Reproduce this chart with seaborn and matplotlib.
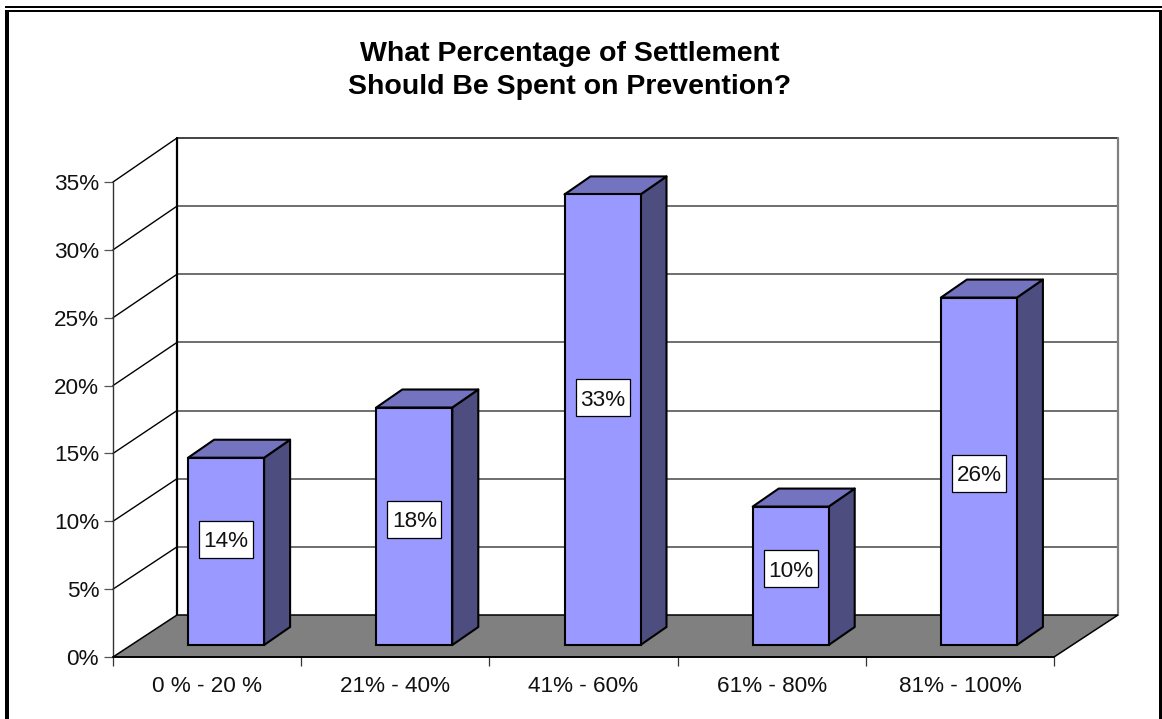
import matplotlib
matplotlib.use("Agg")
import matplotlib.pyplot as plt
import seaborn as sns
from matplotlib.patches import Polygon, Rectangle
from matplotlib.lines import Line2D
from matplotlib.transforms import Affine2D, IdentityTransform

categories = ["0 % - 20 %", "21% - 40%", "41% - 60%", "61% - 80%", "81% - 100%"]
values = [13.8, 17.5, 33.2, 10.2, 25.6]
value_labels = ["14%", "18%", "33%", "10%", "26%"]
y_ticks = [0, 5, 10, 15, 20, 25, 30, 35]
y_tick_labels = ["0%", "5%", "10%", "15%", "20%", "25%", "30%", "35%"]
title = "What Percentage of Settlement\nShould Be Spent on Prevention?"

W, H = 1162, 719
sns.set_theme(style="white")
plt.rcParams["font.family"] = ["Liberation Sans", "DejaVu Sans"]
fig = plt.figure(figsize=(W / 100, H / 100), dpi=100, facecolor="white")
ax = fig.add_axes([113 / W, 1 - 657 / H, 941 / W, 475 / H], facecolor="none")

BAR = "#9999FF"; TOP = "#7373BF"; SIDE = "#4D4D80"; FLOOR = "#808080"
DX, DY = 64, 42          # full depth of the box, px
BX, BY = 19, 12          # front inset of the bars, px
BW, BH = 26, 18          # depth of one bar, px
TEXT = "#111111"

sns.barplot(x=categories, y=values, ax=ax, color=BAR, saturation=1, width=76 / 188.2,
            edgecolor="black", linewidth=1.5, zorder=5)
ax.set_xlim(-0.5, 4.5)
ax.set_ylim(0, 35)
fig.canvas.draw()

def px(x, y, ox=0, oy=0):
    a, b = ax.transData.transform((x, y))
    return (a + ox, b + oy)

def back(x, y):
    # the back wall is a hair taller than the front plane
    return px(x, y, DX, DY + 2 * y / 35)

identity = IdentityTransform()

def fig_add(artist):
    artist.set_clip_on(False)
    ax.add_artist(artist)

x0, x1 = -0.5, 4.5

# back wall and grid
fig_add(Polygon([back(x0, 0), back(x1, 0), back(x1, 35), back(x0, 35)],
                closed=True, fc="white", ec="none", transform=identity, zorder=1))
for t in y_ticks[1:]:
    col = "#222222" if t == 35 else "#555555"
    fig_add(Line2D(*zip(back(x0, t), back(x1, t)), color=col, lw=1.2,
                   transform=identity, zorder=1.5))
    fig_add(Line2D(*zip(px(x0, t), back(x0, t)), color="black", lw=1.0,
                   transform=identity, zorder=1.5))
fig_add(Line2D(*zip(back(x0, 0), back(x0, 35)), color="black", lw=1.6,
               transform=identity, zorder=1.6))
fig_add(Line2D(*zip(back(x1, 0), back(x1, 35)), color="#808080", lw=1.6,
               transform=identity, zorder=1.6))
fig_add(Line2D(*zip(px(x0, 0), px(x0, 35)), color="#333333", lw=1.0,
               transform=identity, zorder=1.6))

# floor
fig_add(Polygon([px(x0, 0), px(x1, 0), back(x1, 0), back(x0, 0)], closed=True,
                fc=FLOOR, ec="black", lw=1.1, transform=identity, zorder=2))

# bars
shift = Affine2D().translate(BX, BY)
for p, v in zip(ax.patches, values):
    p.set_transform(ax.transData + shift)
    p.set_clip_on(False)
    xl = p.get_x(); xr = xl + p.get_width()
    fig_add(Polygon([px(xr, 0, BX, BY), px(xr, 0, BX + BW, BY + BH),
                     px(xr, v, BX + BW, BY + BH), px(xr, v, BX, BY)], closed=True,
                    fc=SIDE, ec="black", lw=1.5, joinstyle="round", transform=identity, zorder=4))
    fig_add(Polygon([px(xl, v, BX, BY), px(xr, v, BX, BY),
                     px(xr, v, BX + BW, BY + BH), px(xl, v, BX + BW, BY + BH)], closed=True,
                    fc=TOP, ec="black", lw=1.5, joinstyle="round", transform=identity, zorder=4))

label_nudge = [12, 7, 22, 7, -2]   # the boxes sit a little above the middle of the face, px
for p, v, lab, nudge in zip(ax.patches, values, value_labels, label_nudge):
    cx = p.get_x() + p.get_width() / 2
    a, b = px(cx, v / 2, BX, BY + nudge)
    fig_add(Rectangle((a - 27, b - 18.5), 54, 37, fc="white", ec="black", lw=0.9,
                      transform=identity, zorder=6))
    ax.text(a, b, lab, transform=identity, ha="center", va="center_baseline", fontsize=16.2,
            color=TEXT, zorder=7)

# axes
for s in ax.spines.values():
    s.set_visible(False)
ax.spines["bottom"].set_visible(True)
ax.spines["bottom"].set_color("black")
ax.spines["bottom"].set_linewidth(1.2)
ax.spines["bottom"].set_zorder(3)
ax.set_yticks(y_ticks, y_tick_labels, fontsize=16.2, color=TEXT)
ax.tick_params(axis="y", left=True, length=6.5, width=0.9, color="#555555", pad=3.5)
ax.set_xticks([-0.5, 0.5, 1.5, 2.5, 3.5, 4.5], [""] * 6)
ax.tick_params(axis="x", bottom=True, length=6.5, width=0.9, color="#333333")
ax.set_xlabel(""); ax.set_ylabel("")
for i, c in enumerate(categories):
    ax.annotate(c, xy=(i, 0), xycoords="data", xytext=(0, -29), textcoords="offset pixels",
                ha="center", va="center", fontsize=16.2, color=TEXT)

fig.text(570 / W, 1 - 70.5 / H, title, ha="center", va="center", fontsize=20.5, fontweight="bold",
         color="black", linespacing=1.35)

# double page frame
fig.add_artist(Rectangle((5 / W, 1 - 8 / H), 1157 / W, 2 / H, transform=fig.transFigure, fc="black", ec="none"))
fig.add_artist(Rectangle((5 / W, 1 - 11.5 / H), 1157 / W, 2 / H, transform=fig.transFigure, fc="black", ec="none"))
fig.add_artist(Rectangle((5 / W, 0), 4 / W, 1 - 9.5 / H, transform=fig.transFigure, fc="black", ec="none"))
fig.add_artist(Rectangle((1159 / W, 0), 3 / W, 1 - 9.5 / H, transform=fig.transFigure, fc="black", ec="none"))

fig.savefig("out.png", dpi=100, facecolor="white")
